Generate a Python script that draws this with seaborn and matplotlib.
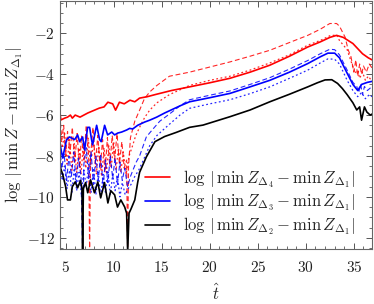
import numpy as np
import pandas as pd
import matplotlib
matplotlib.use("Agg")
import matplotlib.pyplot as plt
import seaborn as sns
from matplotlib.ticker import MultipleLocator, FuncFormatter
from matplotlib.lines import Line2D

# ---------------- data ----------------
t_red = [4.4, 4.5, 4.9, 5.2, 5.5, 5.7, 6.0, 6.5, 7.3, 8.0, 8.5, 9.0, 9.4, 9.9, 10.2, 10.6, 11.1, 11.7,
         12.2, 12.7, 13.5, 14.3, 16, 17.9, 20, 22.1, 24.2, 26.25, 28.3, 30.2, 31.5, 32.5, 33.2, 33.9,
         34.9, 35.9, 36.5, 36.9]
v_red = [-5.8, -6.24, -6.15, -6.1, -6.0, -6.15, -6.0, -6.1, -5.9, -5.76, -5.66, -5.6, -5.37, -5.45,
         -5.76, -5.37, -5.45, -5.27, -5.35, -5.17, -5.1, -5.0, -4.8, -4.62, -4.42, -4.2, -3.9, -3.56,
         -3.12, -2.67, -2.42, -2.2, -2.1, -2.2, -2.5, -3.0, -3.2, -3.3]

t_blue = [4.4, 4.69, 5.1, 5.42, 5.94, 6.25, 6.46, 6.77, 6.98, 7.29, 7.5, 7.7, 7.81, 8.23, 8.54, 8.7,
          9.06, 9.375, 9.8, 10.1, 10.42, 10.83, 11.35, 11.67, 11.98, 12.5, 13.23, 13.75, 14.48, 15.3,
          16.9, 17.9, 20, 22.1, 24, 26.25, 28.3, 30.2, 31.5, 32.3, 33.0, 33.5, 34.3, 34.9, 35.4, 35.8,
          36.4, 36.9]
v_blue = [-7.37, -8.1, -7.2, -7.07, -7.2, -6.97, -7.3, -7.07, -7.7, -6.6, -6.6, -7.2, -7.46, -6.5,
          -7.2, -7.3, -6.5, -6.97, -6.83, -6.97, -6.88, -6.83, -6.73, -6.65, -6.68, -6.5, -6.34, -6.25,
          -6.1, -5.9, -5.55, -5.35, -5.15, -4.94, -4.65, -4.3, -3.9, -3.48, -3.15, -2.97, -2.97, -3.2,
          -3.95, -4.5, -4.8, -4.5, -4.4, -4.35]

t_black = [4.4, 4.7, 5.0, 5.2, 5.5, 5.7, 6.0, 6.25, 6.55, 6.7, 6.77, 6.85, 7.08, 7.3, 7.6, 8.0, 8.35,
           8.65, 9.05, 9.4, 9.7, 10.1, 10.4, 10.75, 11.15, 11.35, 11.46, 11.6, 11.8, 12.2, 12.5, 12.7,
           13.4, 14.3, 15.3, 16.5, 17.9, 19.3, 22.1, 24.2, 26.25, 28.3, 30.2, 31.2, 32.0, 32.7, 33.3,
           33.8, 34.3, 34.9, 35.3, 35.6, 35.8, 36.1, 36.35, 36.7, 36.9]
v_black = [-8.5, -8.9, -9.5, -10.15, -10.15, -9.5, -9.27, -9.56, -9.2, -9.6, -12.7, -9.6, -9.3, -9.8,
           -9.17, -9.8, -9.27, -10.05, -9.3, -10.3, -9.7, -9.9, -10.5, -10.15, -10.5, -10.8, -12.7,
           -10.8, -10.6, -10.15, -9.3, -8.8, -8.05, -7.3, -7.05, -6.85, -6.6, -6.49, -6.08, -5.75,
           -5.35, -4.98, -4.62, -4.42, -4.28, -4.27, -4.45, -4.7, -5.0, -5.4, -5.75, -5.6, -6.25, -5.6,
           -5.85, -6.0, -5.95]

t_red_dash = [4.4, 4.6, 4.8, 5.0, 5.2, 5.45, 5.7, 5.95, 6.2, 6.45, 6.65, 6.9, 7.15, 7.4, 7.5, 7.6,
              7.85, 8.1, 8.35, 8.6, 8.85, 9.1, 9.35, 9.6, 9.85, 10.1, 10.35, 10.6, 10.85, 11.1, 11.35,
              11.45, 11.55, 11.75, 12.2, 12.7, 13.2, 13.75, 14.5, 15.8, 17.9, 20, 22.1, 24.2, 26.25,
              28.3, 30.2, 31.5, 32.5, 33.2, 33.5, 34.1, 34.4, 34.7, 35.0, 35.2, 35.4, 35.6, 35.8, 36.0,
              36.3, 36.6, 36.9]
v_red_dash = [-6.0, -7.2, -6.5, -8.0, -6.8, -7.9, -6.6, -8.3, -6.9, -8.6, -7.0, -8.2, -6.5, -8.0,
              -12.7, -8.0, -6.6, -8.4, -7.0, -8.6, -7.2, -8.8, -7.1, -8.5, -7.0, -8.2, -6.9, -8.4,
              -7.3, -8.6, -8.2, -12.7, -8.5, -7.1, -6.3, -5.76, -5.2, -4.87, -4.55, -4.1, -3.9, -3.65,
              -3.4, -3.12, -2.83, -2.45, -2.1, -1.8, -1.52, -1.52, -1.65, -2.2, -2.8, -3.15, -3.9,
              -3.3, -4.1, -3.5, -4.0, -3.6, -3.9, -3.5, -3.7]

t_red_dot = [4.4, 4.65, 4.9, 5.15, 5.4, 5.65, 5.9, 6.15, 6.4, 6.6, 6.85, 7.1, 7.35, 7.6, 7.9, 8.2,
             8.45, 8.75, 9.0, 9.25, 9.5, 9.75, 10.0, 10.25, 10.5, 10.75, 11.0, 11.3, 11.6, 11.9, 12.3,
             12.8, 13.25, 13.75, 14.5, 15.8, 17.9, 20, 22.1, 24.2, 26.25, 28.3, 30.2, 31.5, 32.5, 33.2,
             33.5, 34.3, 34.8, 35.1, 35.4, 35.6, 35.9, 36.2, 36.5, 36.9]
v_red_dot = [-6.6, -7.6, -6.9, -8.4, -7.2, -8.7, -7.4, -8.8, -7.6, -8.9, -7.4, -8.6, -7.1, -8.5,
             -7.3, -8.9, -7.5, -9.0, -7.6, -8.8, -7.5, -8.6, -7.3, -8.7, -7.6, -8.8, -7.8, -8.9, -8.0,
             -7.6, -7.0, -6.5, -6.1, -5.76, -5.4, -5.0, -4.55, -4.3, -4.1, -3.8, -3.45, -3.05, -2.58,
             -2.35, -2.12, -2.08, -2.35, -2.8, -3.5, -3.95, -3.8, -4.2, -3.9, -4.3, -4.1, -4.35]

t_blue_dash = [4.4, 4.6, 4.85, 5.1, 5.35, 5.6, 5.85, 6.1, 6.35, 6.6, 6.77, 6.9, 7.15, 7.4, 7.65, 7.9,
               8.15, 8.4, 8.65, 8.9, 9.15, 9.4, 9.65, 9.9, 10.15, 10.4, 10.65, 10.9, 11.15, 11.45,
               11.75, 12.0, 12.35, 12.7, 13.4, 14.06, 14.8, 15.8, 16.9, 17.9, 20, 22.1, 24.2, 26.25,
               28.3, 30.2, 31.5, 32.5, 33.0, 33.5, 34.3, 34.9, 35.3, 35.5, 35.7, 35.9, 36.1, 36.4, 36.9]
v_blue_dash = [-7.6, -8.6, -7.9, -9.2, -8.0, -9.0, -7.8, -9.3, -8.1, -9.0, -12.7, -8.4, -7.6, -9.1,
               -7.8, -9.4, -8.0, -9.2, -7.9, -9.5, -8.2, -9.3, -8.0, -9.1, -8.1, -9.4, -8.3, -9.2,
               -8.6, -9.5, -9.0, -8.7, -8.3, -8.0, -7.07, -6.7, -6.3, -5.95, -5.55, -5.25, -5.03,
               -4.82, -4.5, -4.17, -3.75, -3.33, -3.0, -2.78, -2.8, -3.05, -3.8, -4.4, -4.6, -4.9,
               -4.5, -5.0, -4.6, -4.8, -4.6]

t_blue_dot = [4.4, 4.65, 4.9, 5.15, 5.4, 5.65, 5.9, 6.15, 6.4, 6.65, 6.9, 7.15, 7.4, 7.65, 7.9, 8.15,
              8.4, 8.65, 8.9, 9.15, 9.4, 9.65, 9.9, 10.15, 10.4, 10.65, 10.9, 11.2, 11.5, 11.8, 12.2,
              12.6, 13.0, 13.75, 14.5, 15.8, 16.9, 17.9, 20, 22.1, 24.2, 26.25, 28.3, 30.2, 31.5, 32.3,
              33.0, 33.5, 34.3, 34.9, 35.4, 35.8, 36.2, 36.6, 36.9]
v_blue_dot = [-8.2, -9.2, -8.5, -9.6, -8.7, -9.8, -8.6, -9.7, -8.8, -9.9, -8.7, -9.5, -8.4, -9.8,
              -8.6, -9.9, -8.8, -10.0, -8.9, -9.8, -8.7, -9.9, -8.9, -9.7, -9.0, -10.0, -9.3, -9.9,
              -9.6, -9.4, -9.0, -8.7, -8.3, -7.5, -7.0, -6.45, -6.0, -5.67, -5.45, -5.25, -4.95,
              -4.62, -4.2, -3.8, -3.45, -3.25, -3.27, -3.5, -4.3, -4.8, -5.1, -4.9, -5.2, -5.0, -5.1]

labels = [r"$\log\,|\,\min\,Z_{\Delta_4}-\min\,Z_{\Delta_1}|$",
          r"$\log\,|\,\min\,Z_{\Delta_3}-\min\,Z_{\Delta_1}|$",
          r"$\log\,|\,\min\,Z_{\Delta_2}-\min\,Z_{\Delta_1}|$"]
x_ticks = [5, 10, 15, 20, 25, 30, 35]
y_ticks = [-2, -4, -6, -8, -10, -12]

# ---------------- style ----------------
sns.set_style("ticks")
plt.rcParams["mathtext.fontset"] = "cm"
plt.rcParams["font.family"] = ["DejaVu Serif"]
plt.rcParams["lines.scale_dashes"] = False

fig = plt.figure(figsize=(3.74, 3.04), dpi=100)
ax = fig.add_axes([0.160, 0.181, 0.835, 0.817])

RED = "#ff0000"
BLUE = "#0000ff"
dash = (0, (3.5, 2.0))
dot = (0, (1.3, 1.8))

def draw(t, v, color, ls, lw, alpha=1.0):
    df = pd.DataFrame({"t": t, "v": v})
    sns.lineplot(data=df, x="t", y="v", ax=ax, color=color, linestyle=ls, lw=lw,
                 alpha=alpha, estimator=None, sort=False, legend=False)

draw(t_red_dash, v_red_dash, RED, dash, 0.8, 0.85)
draw(t_red_dot, v_red_dot, RED, dot, 0.9, 0.85)
draw(t_blue_dash, v_blue_dash, BLUE, dash, 0.8, 0.85)
draw(t_blue_dot, v_blue_dot, BLUE, dot, 0.9, 0.85)
draw(t_black, v_black, "black", "-", 1.2)
draw(t_blue, v_blue, BLUE, "-", 1.2)
draw(t_red, v_red, RED, "-", 1.2)

ax.set_xlim(4.4, 36.9)
ax.set_ylim(-12.55, -0.4)
ax.set_xticks(x_ticks)
ax.set_yticks(y_ticks)
ax.xaxis.set_minor_locator(MultipleLocator(1))
ax.yaxis.set_minor_locator(MultipleLocator(0.5))
fmt = FuncFormatter(lambda v, p: r"$%d$" % int(round(v)))
ax.xaxis.set_major_formatter(fmt)
ax.yaxis.set_major_formatter(fmt)
ax.tick_params(which="both", direction="in", top=True, right=True, colors="#555555",
               labelcolor="#222222", labelsize=11)
ax.tick_params(which="major", length=4, width=0.7)
ax.tick_params(which="minor", length=2, width=0.6)
ax.tick_params(axis="x", pad=8)
for s in ax.spines.values():
    s.set_color("#666666")
    s.set_linewidth(0.8)

ax.set_xlabel(r"$\hat{t}$", fontsize=12, labelpad=6)
ax.set_ylabel(r"$\log\,|\,\min\,Z-\min\,Z_{\Delta_1}|$", fontsize=12, labelpad=1)

handles = [Line2D([], [], color=RED, lw=1.2), Line2D([], [], color=BLUE, lw=1.2),
           Line2D([], [], color="black", lw=1.2)]
ax.legend(handles, labels, loc="lower right", frameon=False, fontsize=12,
          handlelength=1.45, labelspacing=0.12, handletextpad=0.8,
          bbox_to_anchor=(0.982, 0.0), borderaxespad=0.3)

fig.savefig("out.png", dpi=100)
